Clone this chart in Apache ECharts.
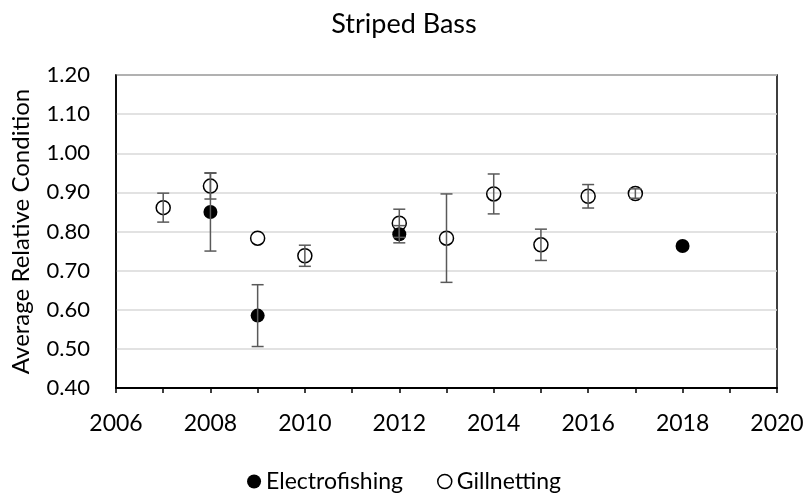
<!DOCTYPE html>
<html>
<head>
<meta charset="utf-8">
<script src="https://cdn.jsdelivr.net/npm/echarts@6/dist/echarts.min.js"></script>
<style>
  html, body { margin: 0; padding: 0; background: #fff; }
  #myChart { width: 808px; height: 495px; }
</style>
</head>
<body>
<div id="myChart"></div>
<script>
  // 数据
  var electroYears = [2008, 2009, 2012, 2018];
  var electroValues = [0.85, 0.585, 0.793, 0.763];
  var electroErr = [0.10, 0.079, 0.022, 0];

  var gillYears = [2007, 2008, 2009, 2010, 2012, 2013, 2014, 2015, 2016, 2017];
  var gillValues = [0.861, 0.916, 0.783, 0.738, 0.821, 0.783, 0.896, 0.766, 0.890, 0.897];
  var gillErr = [0.037, 0.033, 0, 0.027, 0.036, 0.113, 0.051, 0.040, 0.030, 0.012];

  var fontName = "Lato, 'Open Sans', sans-serif";

  function pairs(xs, ys) {
    return xs.map(function (x, i) { return [x, ys[i]]; });
  }
  function errRows(xs, ys, es) {
    var out = [];
    xs.forEach(function (x, i) {
      if (es[i] > 0) out.push([x, ys[i] - es[i], ys[i] + es[i]]);
    });
    return out;
  }

  // 误差线
  function renderErr(params, api) {
    var lo = api.coord([api.value(0), api.value(1)]);
    var hi = api.coord([api.value(0), api.value(2)]);
    var w = 6;
    var st = { stroke: "#595959", lineWidth: 1.5, fill: null };
    return {
      type: "group",
      children: [
        { type: "line", shape: { x1: lo[0], y1: lo[1], x2: hi[0], y2: hi[1] }, style: st },
        { type: "line", shape: { x1: lo[0] - w, y1: lo[1], x2: lo[0] + w, y2: lo[1] }, style: st },
        { type: "line", shape: { x1: hi[0] - w, y1: hi[1], x2: hi[0] + w, y2: hi[1] }, style: st }
      ]
    };
  }

  var myChart = echarts.init(document.getElementById("myChart"));

  var option = {
    backgroundColor: "#fff",
    animation: false,
    textStyle: { fontFamily: fontName },
    title: {
      text: "Striped Bass",
      left: "center",
      top: 6,
      textStyle: { fontSize: 27, fontWeight: "normal", color: "#000", fontFamily: fontName }
    },
    legend: {
      top: 465,
      left: "center",
      itemGap: 34,
      itemWidth: 14,
      itemHeight: 14,
      textStyle: { fontSize: 23, color: "#000", fontFamily: fontName },
      data: [
        { name: "Electrofishing", icon: "circle", itemStyle: { color: "#000", borderWidth: 0, opacity: 1 } },
        { name: "Gillnetting", icon: "circle", itemStyle: { color: "#fff", borderColor: "#000", borderWidth: 1.5, opacity: 1 } }
      ]
    },
    grid: {
      left: 116,
      right: 31,
      top: 75,
      bottom: 107,
      show: true,
      borderColor: "#000",
      borderWidth: 1.5
    },
    xAxis: {
      type: "value",
      min: 2006,
      max: 2020,
      interval: 1,
      axisLine: { show: true, lineStyle: { color: "#000", width: 2 } },
      axisTick: { show: true, length: 5, lineStyle: { color: "#000", width: 1.5 } },
      splitLine: { show: false },
      axisLabel: {
        fontSize: 23,
        color: "#000",
        margin: 24,
        formatter: function (v) { return v % 2 === 0 ? String(v) : ""; }
      }
    },
    yAxis: {
      type: "value",
      min: 0.4,
      max: 1.2,
      interval: 0.1,
      name: "Average Relative Condition",
      nameLocation: "middle",
      nameGap: 83,
      nameTextStyle: { fontSize: 24, color: "#000", fontFamily: fontName },
      axisLine: { show: true, lineStyle: { color: "#000", width: 1.5 } },
      axisTick: { show: false },
      splitLine: { show: true, lineStyle: { color: "#d9d9d9", width: 1.5 } },
      axisLabel: {
        fontSize: 22,
        color: "#000",
        margin: 26,
        formatter: function (v) { return v.toFixed(2); }
      }
    },
    series: [
      {
        name: "Electrofishing",
        type: "scatter",
        symbol: "circle",
        symbolSize: 14,
        itemStyle: { color: "#000", opacity: 1 },
        data: pairs(electroYears, electroValues),
        z: 3
      },
      {
        name: "Gillnetting",
        type: "scatter",
        symbol: "circle",
        symbolSize: 14,
        itemStyle: { color: "rgba(255,255,255,0)", borderColor: "#000", borderWidth: 1.5, opacity: 1 },
        data: pairs(gillYears, gillValues),
        z: 4
      },
      {
        type: "custom",
        renderItem: renderErr,
        data: errRows(electroYears, electroValues, electroErr),
        encode: { x: 0, y: [1, 2] },
        z: 5,
        silent: true
      },
      {
        type: "custom",
        renderItem: renderErr,
        data: errRows(gillYears, gillValues, gillErr),
        encode: { x: 0, y: [1, 2] },
        z: 5,
        silent: true
      }
    ]
  };

  myChart.setOption(option);
</script>
</body>
</html>
